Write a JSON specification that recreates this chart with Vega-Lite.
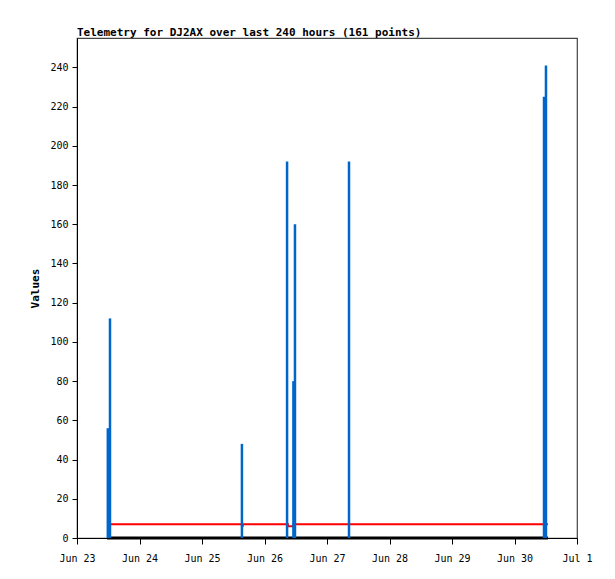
{
  "$schema": "https://vega.github.io/schema/vega-lite/v6.json",
  "width": 500,
  "height": 500,
  "autosize": {"type": "none"},
  "padding": {"left": 77, "top": 38, "right": 38, "bottom": 41},
  "background": "white",
  "title": {
    "text": "Telemetry for DJ2AX over last 240 hours (161 points)",
    "anchor": "start",
    "frame": "group",
    "font": "DejaVu Sans Mono",
    "fontSize": 11,
    "fontWeight": "bold",
    "color": "black",
    "offset": 0
  },
  "config": {
    "view": {"stroke": "#444444", "strokeWidth": 1.2},
    "axis": {
      "labelFont": "DejaVu Sans Mono",
      "labelFontSize": 10,
      "labelColor": "black",
      "domainColor": "black",
      "tickColor": "black",
      "titleFont": "DejaVu Sans Mono",
      "titleFontSize": 11,
      "titleFontWeight": "bold",
      "titleColor": "black",
      "grid": false
    }
  },
  "datasets": {
    "spikes": [
      {"t": "2024-06-23T11:50:00Z", "v": 56},
      {"t": "2024-06-23T12:40:00Z", "v": 112},
      {"t": "2024-06-25T15:20:00Z", "v": 48},
      {"t": "2024-06-26T08:40:00Z", "v": 192},
      {"t": "2024-06-26T11:06:00Z", "v": 80},
      {"t": "2024-06-26T11:42:00Z", "v": 160},
      {"t": "2024-06-27T08:27:00Z", "v": 192},
      {"t": "2024-06-30T11:20:00Z", "v": 225},
      {"t": "2024-06-30T12:05:00Z", "v": 241}
    ],
    "red": [
      {"t": "2024-06-23T12:40:00Z", "v": 7},
      {"t": "2024-06-25T15:00:00Z", "v": 7},
      {"t": "2024-06-25T15:20:00Z", "v": 6.3},
      {"t": "2024-06-25T15:40:00Z", "v": 7},
      {"t": "2024-06-26T08:40:00Z", "v": 7},
      {"t": "2024-06-26T09:00:00Z", "v": 6},
      {"t": "2024-06-26T10:50:00Z", "v": 6},
      {"t": "2024-06-26T11:06:00Z", "v": 7},
      {"t": "2024-06-30T12:50:00Z", "v": 7}
    ],
    "black": [
      {"t": "2024-06-23T11:30:00Z", "v": 0},
      {"t": "2024-06-30T12:50:00Z", "v": 0}
    ]
  },
  "layer": [
    {
      "data": {"name": "black"},
      "mark": {"type": "line", "color": "black", "strokeWidth": 3, "clip": false},
      "encoding": {
        "x": {
          "field": "t", "type": "temporal",
          "scale": {"type": "utc", "domain": [1719100800000, 1719792000000]},
          "axis": {"title": null, "format": "%b %-d", "values": [1719100800000, 1719187200000, 1719273600000, 1719360000000, 1719446400000, 1719532800000, 1719619200000, 1719705600000, 1719792000000], "tickSize": 6, "labelPadding": 9, "labelFlush": false, "labelOverlap": false}
        },
        "y": {
          "field": "v", "type": "quantitative",
          "scale": {"domain": [0, 255], "nice": false},
          "axis": {"title": "Values", "values": [0, 20, 40, 60, 80, 100, 120, 140, 160, 180, 200, 220, 240], "tickSize": 5, "labelPadding": 4, "titlePadding": 9}
        }
      }
    },
    {
      "data": {"name": "red"},
      "mark": {"type": "line", "color": "#ff0000", "strokeWidth": 2, "interpolate": "step-after"},
      "encoding": {
        "x": {"field": "t", "type": "temporal"},
        "y": {"field": "v", "type": "quantitative"}
      }
    },
    {
      "data": {"name": "spikes"},
      "mark": {"type": "rule", "color": "#0066cc", "strokeWidth": 2.5},
      "encoding": {
        "x": {"field": "t", "type": "temporal"},
        "y": {"field": "v", "type": "quantitative"},
        "y2": {"datum": 0}
      }
    }
  ]
}
